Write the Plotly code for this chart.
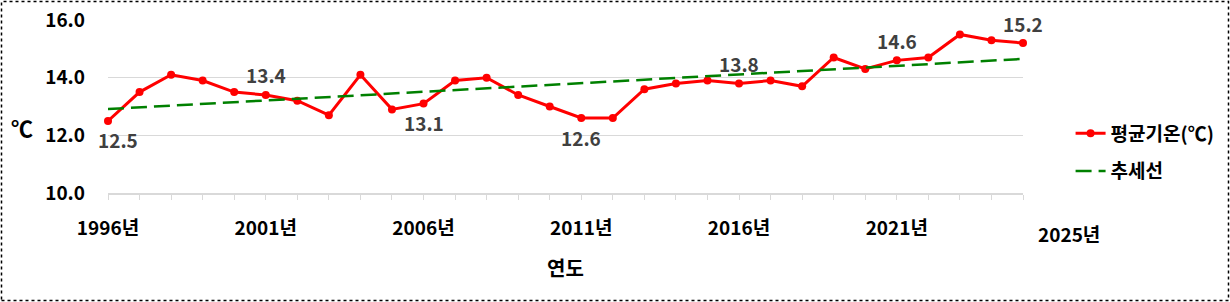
import numpy as np
import plotly.graph_objects as go

years = list(range(1996, 2026))
temps = [12.5, 13.5, 14.1, 13.9, 13.5, 13.4, 13.2, 12.7, 14.1, 12.9,
         13.1, 13.9, 14.0, 13.4, 13.0, 12.6, 12.6, 13.6, 13.8, 13.9,
         13.8, 13.9, 13.7, 14.7, 14.3, 14.6, 14.7, 15.5, 15.3, 15.2]
label_years = [1996, 2001, 2006, 2011, 2016, 2021, 2025]
label_pos = ["below", "above", "below", "below", "above", "above", "above"]
tick_years = [1996, 2001, 2006, 2011, 2016, 2021]
y_ticks = [10.0, 12.0, 14.0, 16.0]

series_name = "평균기온(℃)"
trend_name = "추세선"
x_title = "연도"
y_title = "℃"
last_label = "2025년"

FONT = "Noto Sans CJK KR"
idx = list(range(len(years)))

slope, intercept = np.polyfit(idx, temps, 1)
trend = [slope * i + intercept for i in idx]

fig = go.Figure()
fig.add_trace(go.Scatter(
    x=idx, y=temps, mode="lines+markers", name=series_name,
    line=dict(color="#FF0000", width=3),
    marker=dict(color="#FF0000", size=8, symbol="circle"),
    legendgroup="a", cliponaxis=False))
fig.add_trace(go.Scatter(
    x=[idx[0], idx[-1]], y=[trend[0], trend[-1]], mode="lines", name=trend_name,
    line=dict(color="#008000", width=2.5, dash="16px,7px"),
    legendgroup="b", cliponaxis=False))

annotations = []
for yr, pos in zip(label_years, label_pos):
    i = years.index(yr)
    annotations.append(dict(
        x=i, y=temps[i], xref="x", yref="y", text=f"{temps[i]:.1f}",
        showarrow=False, xanchor="center", yanchor="middle",
        yshift=(-19 if pos == "below" else 20),
        xshift=(10 if i == 0 else 0),
        font=dict(family=FONT, size=19, color="#404040", weight=700)))

annotations.append(dict(
    x=idx[-1], y=y_ticks[0], xref="x", yref="y", text=last_label,
    showarrow=False, xanchor="center", yanchor="middle", xshift=46, yshift=-40,
    font=dict(family=FONT, size=19, color="#000000", weight=700)))
annotations.append(dict(
    x=0.5, y=0, xref="paper", yref="paper", text=x_title, showarrow=False,
    xanchor="center", yanchor="middle",
    yshift=-74, font=dict(family=FONT, size=20, color="#000000", weight=700)))
annotations.append(dict(
    x=0, y=(193 - 127) / 173, xref="paper", yref="paper", text=y_title,
    showarrow=False, xanchor="center", yanchor="middle",
    xshift=-86, font=dict(family=FONT, size=22, color="#000000", weight=700)))

ticktext = [f"{y}년" if y in tick_years else "" for y in years]

fig.update_layout(
    width=1230, height=302,
    margin=dict(l=108, r=207, t=20, b=109, autoexpand=False),
    paper_bgcolor="white", plot_bgcolor="white",
    font=dict(family=FONT, color="#000000"),
    showlegend=True,
    legend=dict(x=1.052, y=0.234, xanchor="left", yanchor="middle",
                font=dict(family=FONT, size=19, color="#000000", weight=700),
                tracegroupgap=10, traceorder="grouped",
                bgcolor="rgba(0,0,0,0)"),
    annotations=annotations,
    shapes=[dict(type="rect", xref="paper", yref="paper",
                 x0=(1.5 - 108) / 915, x1=(1228.5 - 108) / 915,
                 y0=(193 - 300.5) / 173, y1=(193 - 1.5) / 173,
                 line=dict(color="#000000", width=1.5, dash="3px,3px"),
                 fillcolor="rgba(0,0,0,0)", layer="below")],
)
fig.update_xaxes(
    range=[0, len(years) - 1], tickmode="array", tickvals=idx, ticktext=ticktext,
    showgrid=False, showline=True, linecolor="#D9D9D9", linewidth=1.5,
    ticks="outside", ticklen=5, tickcolor="#D9D9D9", tickwidth=1,
    ticklabelstandoff=12, zeroline=False, automargin=False,
    tickfont=dict(family=FONT, size=19, color="#000000", weight=700))
fig.update_yaxes(
    range=[10, 16], tickmode="array", tickvals=y_ticks,
    ticktext=[f"{v:.1f}" for v in y_ticks],
    showgrid=True, gridcolor="#D9D9D9", gridwidth=1, showline=False,
    zeroline=False, ticks="", ticklabelstandoff=22, automargin=False,
    tickfont=dict(family=FONT, size=19, color="#000000", weight=700))

fig.write_html("out.html")
